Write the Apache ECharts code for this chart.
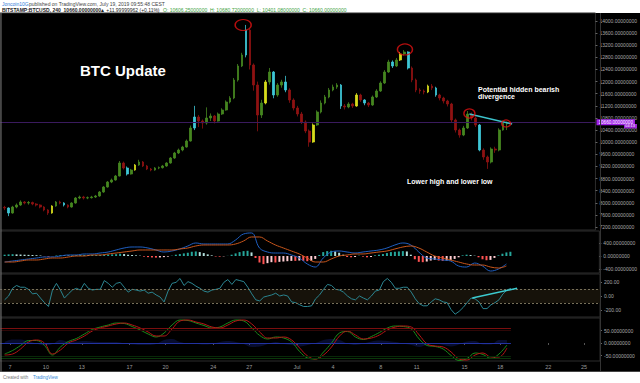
<!DOCTYPE html>
<html><head><meta charset="utf-8">
<script src="https://cdn.jsdelivr.net/npm/echarts@6/dist/echarts.min.js"></script>
<style>html,body{margin:0;padding:0;background:#fff;}#c{width:640px;height:383px;}</style>
</head><body><div id="c"></div>
<script>
// ---------- DATA ----------
// time unit: day number counted from May 31, 2019 (June 7 = 7, July 1 = 31)
const candleStartDay = 6.55;
const candleStepDay = 1 / 3;
// [open, close, low, high]
const candles = [
[7850,7829,7760,7900],[7829,7664,7560,7850],[7664,7862,7640,7900],[7862,7928,7820,7980],[7928,8027,7900,8080],
[8027,7994,7950,8060],[7994,8010,7940,8060],[8010,7961,7920,8040],[7961,7928,7880,7990],[7928,7862,7820,7950],
[7862,7763,7720,7890],[7763,7664,7600,7790],[7664,7895,7640,7920],[7895,8027,7870,8060],[8027,7994,7950,8070],
[7994,7928,7880,8020],[7928,7862,7820,7950],[7862,7994,7840,8020],[7994,8159,7970,8190],[8159,8192,8120,8240],
[8192,8159,8110,8230],[8159,8170,8120,8210],[8170,8192,8140,8230],[8192,8225,8160,8260],[8225,8357,8200,8390],
[8357,8522,8330,8550],[8522,8687,8500,8720],[8687,8753,8650,8800],[8753,8885,8730,8920],[8885,9314,8870,9380],
[9314,9149,9100,9360],[9149,8951,8900,9200],[8951,9083,8930,9120],[9083,9248,9060,9280],[9248,9347,9220,9420],
[9347,9215,9180,9380],[9215,9116,9080,9250],[9116,9083,9040,9150],[9083,9149,9060,9180],[9149,9160,9110,9200],
[9160,9215,9130,9250],[9215,9314,9190,9340],[9314,9479,9290,9510],[9479,9644,9450,9680],[9644,9743,9610,9790],
[9743,9842,9700,9880],[9842,10040,9820,10090],[10040,10469,10020,10550],[10469,10832,10400,11200],[10832,10700,10500,10900],
[10700,10634,10450,10750],[10634,10799,10580,11150],[10799,10865,10700,10950],[10865,10700,10620,10900],[10700,10931,10680,10980],
[10931,11063,10900,11120],[11063,11327,11040,11380],[11327,11459,11280,11520],[11459,12053,11420,12120],[12053,12515,12000,12580],
[12515,12878,12480,12950],[12878,13700,12800,13870],[13700,12548,12400,13750],[12548,11888,11700,12600],[11888,10898,10360,12000],
[10898,11294,10800,11400],[11294,11987,11250,12050],[11987,12317,11900,12450],[12317,11558,11450,12350],[11558,11888,11500,11950],
[11888,11987,11800,12060],[11987,11723,11650,12190],[11723,11393,11300,11780],[11393,11129,11050,11450],[11129,10931,10850,11200],
[10931,10667,10600,11000],[10667,10370,10300,10720],[10370,10007,9850,10420],[10007,10568,9980,10620],[10568,10997,10540,11050],
[10997,11294,10950,11380],[11294,11492,11250,11560],[11492,11723,11450,11790],[11723,11822,11680,11900],[11822,11888,11760,11950],
[11888,11195,11100,11920],[11195,11162,11080,11260],[11162,11261,11120,11320],[11261,11195,11130,11300],[11195,11558,11170,11620],
[11558,11393,11330,11600],[11393,11294,11220,11420],[11294,11228,11160,11330],[11228,11492,11200,11540],[11492,11690,11460,11750],
[11690,11954,11660,12010],[11954,12317,11920,12380],[12317,12647,12290,12720],[12647,12515,12450,12700],[12515,12713,12480,12780],
[12713,12911,12680,12980],[12911,12977,12860,13040],[12977,12449,12400,13000],[12449,12053,11980,12500],[12053,11723,11650,12100],
[11723,11690,11600,11780],[11690,11657,11580,11740],[11657,11855,11620,11900],[11855,11789,11720,11920],[11789,11558,11500,11830],
[11558,11459,11380,11600],[11459,11360,11280,11500],[11360,11261,11180,11400],[11261,10733,10650,11300],[10733,10403,10320,10780],
[10403,10238,10150,10450],[10238,10469,10200,10540],[10469,10931,10440,11030],[10931,10799,10720,10980],[10799,10568,10500,10850],
[10568,9743,9700,10600],[9743,9512,9420,9800],[9512,9347,9120,9560],[9347,9776,9300,9830],[9776,9743,9650,9850],
[9743,10403,9700,10460],[10403,10667,10380,10720],[10606,10660,10401,10681]
];
const cyanBars = [1,15,31,48,61,68,71,85,91,98,102,109,120];
const yellowBars = [12,33,66,78,89,100,107];
const lastPrice = 10660;

// MACD lines sampled every 2 candles
const indicatorStepDay = 2 / 3;
const macdLine = [-185,-154,-123,-92,-62,-31,-31,0,31,31,62,62,92,123,185,246,277,277,246,185,123,154,216,308,400,370,370,370,370,493,678,708,246,123,92,92,31,-62,-246,-339,-62,123,154,123,92,123,154,185,246,339,400,339,123,-62,-92,-123,-154,-308,-339,-216,-308,-462,-400,-246];
const signalLine = [-185,-185,-154,-123,-123,-92,-62,-62,-31,0,0,31,31,62,92,123,154,185,185,185,185,185,216,246,308,339,339,339,339,370,462,585,585,462,339,246,154,62,-62,-185,-185,-92,0,31,62,62,92,123,154,216,277,308,246,123,0,-62,-123,-185,-246,-277,-277,-339,-370,-308];
// MACD histogram, one value per candle
const macdHist = [40,50,55,50,45,40,35,30,25,15,-10,-20,-5,15,25,20,15,20,30,35,35,30,30,30,35,40,45,50,55,70,60,40,30,20,10,-20,-35,-45,-50,-45,-35,-20,10,40,60,80,100,130,140,120,90,50,20,-15,-20,-10,5,40,80,120,150,160,110,-60,-200,-250,-220,-190,-200,-180,-170,-160,-150,-150,-140,-150,-160,-150,-90,30,120,150,160,140,100,40,-30,-40,-30,10,-20,-40,-30,20,40,60,90,120,130,140,150,140,40,-100,-180,-190,-170,-140,-120,-140,-150,-140,-130,-90,-40,20,40,30,10,-40,-100,-130,-120,-60,20,70,110,130];
// CCI, one value per candle
const cciValues = [-55,0,110,150,125,125,95,30,40,-30,-95,-150,85,180,85,-30,30,85,110,85,180,110,85,95,95,220,180,125,180,195,125,55,95,85,70,85,40,55,15,-15,-85,70,180,195,250,150,205,180,140,110,70,55,85,95,110,195,235,165,235,220,205,125,30,-55,-70,-15,0,15,40,0,15,0,-85,-95,-125,-150,-150,-140,-40,15,95,165,150,95,85,55,0,-40,-55,0,-30,-55,0,70,85,205,250,195,110,110,125,125,55,-40,-110,-140,-140,-85,-40,-55,-85,-95,-195,-260,-220,-165,-95,-30,-40,-85,-180,-180,-125,-95,-55,30,85,110];
const cciTrendDays = [45.65, 49.4];
const cciTrendValues = [-30, 110];
// WaveTrend-style oscillator sampled every 2 candles
const oscRed = [-48,-44,-24,4,12,0,-44,-28,0,12,28,48,60,68,76,80,72,60,44,28,28,56,88,92,84,76,64,60,72,88,92,76,44,20,20,24,12,-20,-52,-64,-48,-16,28,48,32,16,20,32,52,64,68,64,32,-4,-12,-16,-36,-64,-68,-48,-40,-56,-56,-20];
const oscGreen = [-44,-30,-10,10,10,-10,-48,-16,6,18,36,54,64,72,80,78,66,52,36,24,40,72,92,90,80,70,60,64,80,92,88,60,30,16,24,20,4,-34,-60,-64,-36,0,40,46,24,14,26,42,60,68,66,56,16,-10,-14,-24,-50,-70,-62,-40,-46,-62,-44,-8];
const oscDiff = [4,14,14,6,-2,-10,-4,12,6,6,8,6,4,4,4,-2,-6,-8,-8,-4,12,16,4,-2,-4,-6,-4,4,8,4,-4,-16,-14,-4,4,-4,-8,-14,-8,0,12,16,12,-2,-8,-2,6,10,8,4,-2,-8,-16,-6,-2,-8,-14,-6,6,8,-6,-6,12,12];
const oscOverbought = [60, 53];
const oscOversold = [-53, -60];

// annotations (day, price)
const peakCircles = [[26.65,13868,16,11],[40.28,13060,15,11],[45.71,10948,11,9],[48.8,10618,9,7]];
const priceTrendDays = [45.71, 49.31];
const priceTrendValues = [10931, 10601];

// axes
const priceTicks = [7200,7600,8000,8400,8800,9200,9600,10000,10400,10800,11200,11600,12000,12400,12800,13200,13600,14000];
const macdTicks = [-400,0,400];
const cciTicks = [-200,0,200];
const oscTicks = [-50,0,50];
const timeTicks = [7,10,13,17,20,24,27,31,34,38,41,45,48,52,55];
const timeTickLabels = ['7','10','13','17','20','24','27','Jul','4','8','11','15','18','22','25'];

// ---------- CHART ----------
const DAY_MIN = 6.164, DAY_MAX = 56.33;
const font = 'Arial, "Liberation Sans", sans-serif';
const chart = echarts.init(document.getElementById('c'), null, {renderer: 'svg'});
const lastDay = candleStartDay + (candles.length - 1) * candleStepDay;

const candleData = candles.map((c, i) => {
  const item = {value: [candleStartDay + i * candleStepDay, c[0], c[1], c[2], c[3]]};
  let col = null;
  if (cyanBars.includes(i)) col = '#3ec7d6';
  if (yellowBars.includes(i)) col = '#d6dc1c';
  if (col) item.itemStyle = {color: col, color0: col, borderColor: col, borderColor0: col};
  return item;
});
const indX = i => candleStartDay + i * indicatorStepDay;
const candX = i => candleStartDay + i * candleStepDay;

const histData = macdHist.map((v, i) => {
  const p = i > 0 ? macdHist[i - 1] : 0;
  let col;
  if (v >= 0) col = v >= p ? '#26a69a' : '#b2dfdb';
  else col = v <= p ? '#ff5252' : '#ffcdd2';
  return {value: [candX(i), v], itemStyle: {color: col}};
});

const levelLine = (v, color) => [{coord: [DAY_MIN, v], lineStyle: {color: color, width: 1, type: 'solid'}}, {coord: [lastDay, v]}];

const grids = [
  {left: 0, right: 40, top: 13, height: 217},
  {left: 0, right: 40, top: 231, height: 42},
  {left: 0, right: 40, top: 274, height: 43},
  {left: 0, right: 40, top: 318, height: 43}
];
const yRanges = [[7103, 14264], [-523, 769], [-300, 314], [-72, 100]];
const yTicks = [priceTicks, macdTicks, cciTicks, oscTicks];
const yFmt = [v => v.toFixed(8), v => v.toFixed(8), v => v.toFixed(2), v => v.toFixed(8)];

const option = {
  animation: false,
  backgroundColor: '#fff',
  textStyle: {fontFamily: font},
  grid: grids.map(g => Object.assign({show: true, borderColor: '#2c2c2c', borderWidth: 1, backgroundColor: 'transparent'}, g)),
  xAxis: grids.map((g, k) => ({
    type: 'value', gridIndex: k, min: DAY_MIN, max: DAY_MAX,
    splitLine: {show: false}, axisLine: {show: false},
    axisTick: k === 3 ? {show: true, length: 2, lineStyle: {color: '#555'}, customValues: timeTicks} : {show: false},
    axisLabel: k === 3 ? {show: true, customValues: timeTicks, color: '#9a9a9a', fontSize: 5.5, margin: 3,
      formatter: v => { const i = timeTicks.indexOf(Math.round(v)); return i >= 0 ? timeTickLabels[i] : ''; }} : {show: false}
  })),
  yAxis: grids.map((g, k) => ({
    type: 'value', gridIndex: k, position: 'right', min: yRanges[k][0], max: yRanges[k][1],
    splitLine: {show: false}, axisLine: {show: false},
    axisTick: {show: true, length: 2, inside: false, lineStyle: {color: '#666'}, customValues: yTicks[k]},
    axisLabel: {show: true, customValues: yTicks[k], color: '#a8a8a8', fontSize: 5, margin: 4, formatter: yFmt[k]}
  })),
  graphic: [
    {type: 'rect', z: -10, silent: true, shape: {x: 0, y: 13, width: 640, height: 359}, style: {fill: '#000'}},
    {type: 'line', z: 50, shape: {x1: 600.5, y1: 13, x2: 600.5, y2: 372}, style: {stroke: '#333', lineWidth: 1}},
    {type: 'line', z: 50, shape: {x1: 0, y1: 371.5, x2: 640, y2: 371.5}, style: {stroke: '#444', lineWidth: 1}},
    {type: 'line', z: 50, shape: {x1: 1, y1: 13, x2: 1, y2: 372}, style: {stroke: '#777', lineWidth: 1}},
    {type: 'text', left: 2, top: 1, style: {text: 'Joncoin10G', fill: '#2f7ad8', font: '5px ' + font}},
    {type: 'text', left: 29, top: 1, style: {text: 'published on TradingView.com, July 19, 2019 09:55:48 CEST', fill: '#444', font: '5px ' + font}},
    {type: 'text', left: 2, top: 7, style: {text: 'BITSTAMP:BTCUSD, 240  10660.00000000', fill: '#222', font: 'bold 5px ' + font}},
    {type: 'text', left: 100, top: 7, style: {text: '▲ +11.99999962 (+0.11%)', fill: '#222', font: '5px ' + font}},
    {type: 'text', left: 163, top: 7, style: {text: 'O: 10606.25000000  H: 10680.72000000  L: 10401.08000000  C: 10660.00000000', fill: '#3aa03a', font: '5px ' + font}},
    {type: 'text', left: 80, top: 63, style: {text: 'BTC Update', fill: '#fff', font: 'bold 15px ' + font}},
    {type: 'text', left: 478, top: 86, style: {text: 'Potential hidden bearish', fill: '#fff', font: 'bold 7px ' + font}},
    {type: 'text', left: 478, top: 93, style: {text: 'divergence', fill: '#fff', font: 'bold 7px ' + font}},
    {type: 'text', left: 407, top: 178, style: {text: 'Lower high and lower low', fill: '#fff', font: 'bold 7px ' + font}},
    {type: 'rect', z: 60, shape: {x: 624, y: 124, width: 13, height: 4.4}, style: {fill: '#9c27d8'}},
    {type: 'text', z: 61, left: 625.3, top: 124.3, style: {text: '04:13', fill: '#fff', font: '3.8px ' + font}},
    {type: 'text', left: 3, top: 375, style: {text: 'Created with', fill: '#777', font: '4.5px ' + font}},
    {type: 'text', left: 33, top: 375, style: {text: 'TradingView', fill: '#2f8ad8', font: '4.5px ' + font}}
  ],
  series: [
    {type: 'candlestick', name: 'BTCUSD', xAxisIndex: 0, yAxisIndex: 0, barWidth: 2.2,
     itemStyle: {color: '#45861f', color0: '#8e1212', borderColor: '#45861f', borderColor0: '#8e1212', borderWidth: 0.8},
     data: candleData,
     markLine: {silent: true, symbol: 'none', animation: false,
       lineStyle: {color: '#3a1a5e', width: 1, type: 'solid'},
       label: {show: true, position: 'end', distance: 1, formatter: lastPrice.toFixed(8), color: '#fff', backgroundColor: '#a020e8', padding: [0.5, 2], fontSize: 4.6},
       data: [{yAxis: lastPrice}]}},
    {type: 'scatter', xAxisIndex: 0, yAxisIndex: 0, z: 20,
     data: peakCircles.map(c => ({value: [c[0], c[1]], symbolSize: [c[2], c[3]]})),
     symbol: 'circle', itemStyle: {color: 'rgba(0,0,0,0)', borderColor: '#e01212', borderWidth: 1.3}},
    {type: 'line', xAxisIndex: 0, yAxisIndex: 0, z: 19, symbol: 'none',
     data: priceTrendDays.map((d, i) => [d, priceTrendValues[i]]), lineStyle: {color: '#3cc3cc', width: 1.5}},
    // MACD
    {type: 'bar', xAxisIndex: 1, yAxisIndex: 1, barWidth: 2, data: histData},
    {type: 'line', xAxisIndex: 1, yAxisIndex: 1, symbol: 'none', smooth: 0.4,
     data: macdLine.map((v, i) => [indX(i), v]), lineStyle: {color: '#1f5fc0', width: 1}},
    {type: 'line', xAxisIndex: 1, yAxisIndex: 1, symbol: 'none', smooth: 0.4,
     data: signalLine.map((v, i) => [indX(i), v]), lineStyle: {color: '#c8561c', width: 1}},
    // CCI
    {type: 'line', xAxisIndex: 2, yAxisIndex: 2, symbol: 'none',
     data: cciValues.map((v, i) => [candX(i), v]), lineStyle: {color: '#2b8591', width: 1},
     markArea: {silent: true, itemStyle: {color: '#16120a'}, data: [[{yAxis: 100}, {yAxis: -100}]]},
     markLine: {silent: true, symbol: 'none', label: {show: false}, lineStyle: {color: '#77705a', type: [2, 2], width: 1},
       data: [{yAxis: 100}, {yAxis: -100}]}},
    {type: 'line', xAxisIndex: 2, yAxisIndex: 2, symbol: 'none', z: 5,
     data: cciTrendDays.map((d, i) => [d, cciTrendValues[i]]), lineStyle: {color: '#3ccbd0', width: 1.5}},
    // WaveTrend oscillator
    {type: 'line', xAxisIndex: 3, yAxisIndex: 3, symbol: 'none', smooth: 0.4, z: 1,
     data: oscDiff.map((v, i) => [indX(i), v]), lineStyle: {width: 0},
     areaStyle: {color: 'rgba(30,45,170,0.4)', origin: 0},
     markLine: {silent: true, symbol: 'none', label: {show: false},
       data: [levelLine(oscOverbought[0], '#7a0e0e'), levelLine(oscOverbought[1], '#2e0707'),
              levelLine(0, '#2232a0'),
              levelLine(oscOversold[0], '#082808'), levelLine(oscOversold[1], '#0b360b')]}},
    {type: 'line', xAxisIndex: 3, yAxisIndex: 3, symbol: 'none', smooth: 0.4,
     data: oscGreen.map((v, i) => [indX(i), v]), lineStyle: {color: '#1a8a1a', width: 1}},
    {type: 'line', xAxisIndex: 3, yAxisIndex: 3, symbol: 'none', smooth: 0.4,
     data: oscRed.map((v, i) => [indX(i), v]), lineStyle: {color: '#b51616', width: 1}}
  ]
};
chart.setOption(option);
</script>
</body></html>
